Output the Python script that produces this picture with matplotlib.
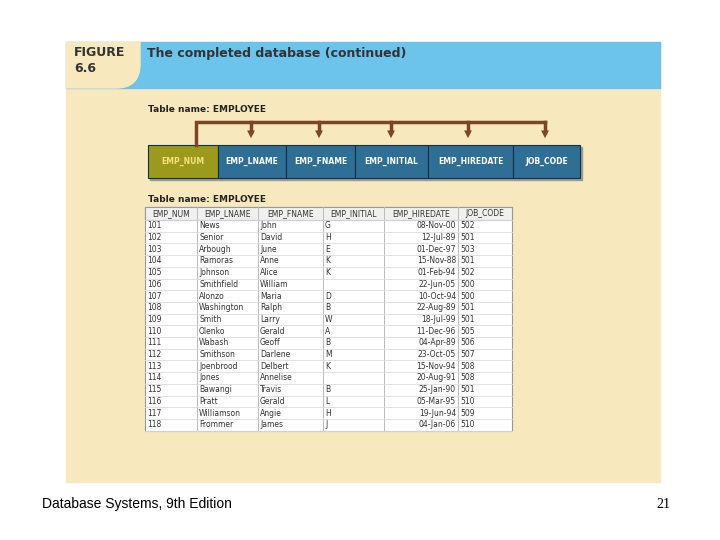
import matplotlib
matplotlib.use("Agg")
import matplotlib.pyplot as plt
from matplotlib.patches import Rectangle, FancyBboxPatch

columns = ["EMP_NUM", "EMP_LNAME", "EMP_FNAME", "EMP_INITIAL", "EMP_HIREDATE", "JOB_CODE"]
emp_num = ["101","102","103","104","105","106","107","108","109","110","111","112","113","114","115","116","117","118"]
lname = ["News","Senior","Arbough","Ramoras","Johnson","Smithfield","Alonzo","Washington","Smith","Olenko","Wabash","Smithson","Joenbrood","Jones","Bawangi","Pratt","Williamson","Frommer"]
fname = ["John","David","June","Anne","Alice","William","Maria","Ralph","Larry","Gerald","Geoff","Darlene","Delbert","Annelise","Travis","Gerald","Angie","James"]
initial = ["G","H","E","K","K","","D","B","W","A","B","M","K","","B","L","H","J"]
hiredate = ["08-Nov-00","12-Jul-89","01-Dec-97","15-Nov-88","01-Feb-94","22-Jun-05","10-Oct-94","22-Aug-89","18-Jul-99","11-Dec-96","04-Apr-89","23-Oct-05","15-Nov-94","20-Aug-91","25-Jan-90","05-Mar-95","19-Jun-94","04-Jan-06"]
job_code = ["502","501","503","501","502","500","500","501","501","505","506","507","508","508","501","510","509","510"]

fig = plt.figure(figsize=(7.2, 5.4), dpi=100)
ax = fig.add_axes([0, 0, 1, 1])
ax.set_xlim(0, 720); ax.set_ylim(540, 0); ax.axis("off")

beige = "#f8e8bd"
panel = Rectangle((66, 42), 594, 440, color=beige)
ax.add_patch(panel)
ax.add_patch(Rectangle((66, 42), 594, 46, color="#6cc3ec"))
corner = FancyBboxPatch((30, 10), 110, 78, boxstyle="round,pad=0,rounding_size=24", color=beige)
ax.add_patch(corner)
corner.set_clip_path(Rectangle((66, 42), 594, 440, transform=ax.transData))
ax.text(74, 53, "FIGURE", fontsize=9, fontweight="bold", color="#333", va="center")
ax.text(74, 69, "6.6", fontsize=9, fontweight="bold", color="#333", va="center")
ax.text(147, 53, "The completed database (continued)", fontsize=9, fontweight="bold", color="#333", va="center")

ax.text(148, 109, "Table name: EMPLOYEE", fontsize=6.5, fontweight="bold", color="#222", va="center")
edges = [148, 218, 286, 355, 428, 513, 580]
for i, c in enumerate(columns):
    x0, x1 = edges[i], edges[i+1]
    ax.add_patch(Rectangle((x0+2, 147), x1-x0, 33, color="#999", zorder=1))
    ax.add_patch(Rectangle((x0, 145), x1-x0, 33, facecolor="#9b9a1c" if i == 0 else "#2f6f96",
                           edgecolor="#10304a", lw=0.8, zorder=2))
    ax.text((x0+x1)/2, 161.5, c, fontsize=5.5, color="#f5e27a" if i == 0 else "white",
            ha="center", va="center", zorder=3, fontweight="bold")
brown = "#7b452a"
ax.plot([196, 196, 545], [145, 122, 122], color=brown, lw=2.5, solid_joinstyle="miter")
for xc in [251, 319, 391, 468, 545]:
    ax.plot([xc, xc], [122, 132], color=brown, lw=2.5)
    ax.annotate("", xy=(xc, 141), xytext=(xc, 130),
                arrowprops=dict(arrowstyle="-|>", color=brown, lw=0, mutation_scale=14))

ax.text(148, 200, "Table name: EMPLOYEE", fontsize=6.5, fontweight="bold", color="#222", va="center")
cx = [145, 197, 258, 323, 384, 458, 512]
top, hh, rh = 207, 13, 11.7
n = len(emp_num)
bottom = top + hh + n*rh
ax.add_patch(Rectangle((cx[0], top), cx[-1]-cx[0], bottom-top, facecolor="white", edgecolor="#999", lw=0.8))
ax.add_patch(Rectangle((cx[0], top), cx[-1]-cx[0], hh, facecolor="#f0f0f0", edgecolor="#999", lw=0.8))
for x in cx[1:-1]:
    ax.plot([x, x], [top, bottom], color="#bbb", lw=0.7)
for r in range(n+1):
    y = top + hh + r*rh
    ax.plot([cx[0], cx[-1]], [y, y], color="#ddd", lw=0.6)
for i, c in enumerate(columns):
    ax.text((cx[i]+cx[i+1])/2, top+hh/2, c, fontsize=5.5, ha="center", va="center", color="#333")
data = [emp_num, lname, fname, initial, hiredate, job_code]
for r in range(n):
    y = top + hh + (r+0.5)*rh
    for i, col in enumerate(data):
        if i == 4:
            ax.text(cx[5]-2, y, col[r], fontsize=5.5, ha="right", va="center", color="#333")
        else:
            ax.text(cx[i]+2, y, col[r], fontsize=5.5, ha="left", va="center", color="#333")

ax.text(42, 504, "Database Systems, 9th Edition", fontsize=10, va="center", family="Liberation Sans")
ax.text(670, 504, "21", fontsize=10, va="center", ha="right", family="Liberation Serif")
fig.savefig("out.png", dpi=100)
